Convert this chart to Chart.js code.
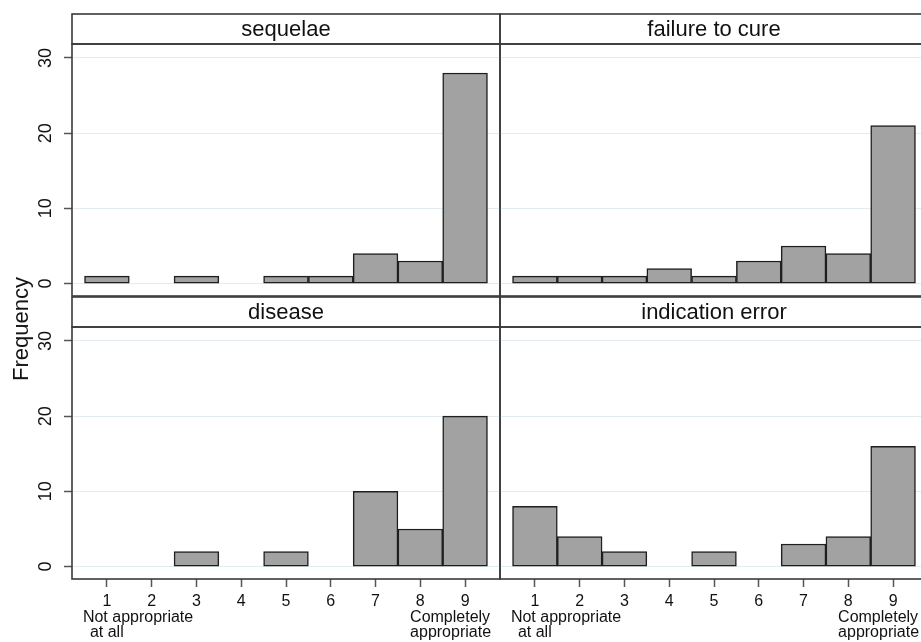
<!DOCTYPE html>
<html lang="en">
<head>
<meta charset="UTF-8" />
<title>Appropriateness ratings by scenario</title>
<script src="https://cdn.jsdelivr.net/npm/chart.js"></script>
<style>
  html, body { margin: 0; padding: 0; background: #fff; overflow: hidden; }
  body { width: 921px; height: 642px; position: relative; font-family: "Liberation Sans", Arial, sans-serif; }
  canvas { position: absolute; }
  #ylabel {
    position: absolute; left: 21px; top: 329px;
    transform: translate(-50%, -50%) rotate(-90deg);
    font-size: 22px; color: #111; white-space: nowrap;
  }
</style>
</head>
<body>
<canvas id="sequelae" width="504" height="300" style="left:0;top:0"></canvas>
<canvas id="failure" width="432" height="300" style="left:496px;top:0"></canvas>
<canvas id="disease" width="504" height="350" style="left:0;top:292px"></canvas>
<canvas id="indication" width="432" height="350" style="left:496px;top:292px"></canvas>
<div id="ylabel">Frequency</div>

<script>
// rating scale 1..9 and counts per scenario
const ratings = [1, 2, 3, 4, 5, 6, 7, 8, 9];
const yTicks = [0, 10, 20, 30];
const sequelae = [1, 0, 1, 0, 1, 1, 4, 3, 28];
const failureToCure = [1, 1, 1, 2, 1, 3, 5, 4, 21];
const disease = [0, 0, 2, 0, 2, 0, 10, 5, 20];
const indicationError = [8, 4, 2, 0, 2, 0, 3, 4, 16];
const lowLabel = ["Not appropriate", "at all"];
const highLabel = ["Completely", "appropriate"];

const FONT = '"Liberation Sans", Arial, sans-serif';
const FRAME = "#3a3a3a";

// strip header + plot frame + end-point descriptions under the x axis
const facetFrame = {
  id: "facetFrame",
  afterDraw(chart, args, opts) {
    const { ctx } = chart;
    const { left, right, top, bottom } = chart.chartArea;
    const h = opts.stripHeight;
    ctx.save();
    ctx.strokeStyle = FRAME;
    ctx.lineWidth = 1.6;
    ctx.strokeRect(left, top - h, right - left, h);
    ctx.strokeRect(left, top, right - left, bottom - top);
    ctx.fillStyle = "#111";
    ctx.font = "22px " + FONT;
    ctx.textAlign = "center";
    ctx.textBaseline = "middle";
    ctx.fillText(opts.title, (left + right) / 2, top - h / 2 + 1);

    if (opts.endLabels) {
      const xs = chart.scales.x;
      const x1 = xs.getPixelForValue(ratings[0]);
      const x9 = xs.getPixelForValue(ratings[ratings.length - 1]);
      ctx.font = "16px " + FONT;
      ctx.textAlign = "left";
      ctx.fillText(lowLabel[0], x1 - 24, xs.top + 39);
      ctx.fillText(lowLabel[1], x1 - 17, xs.top + 54);
      ctx.fillText(highLabel[0], x9 - 55, xs.top + 39);
      ctx.fillText(highLabel[1], x9 - 55, xs.top + 54);
    }
    ctx.restore();
  }
};

function makePanel(id, title, counts, showY, showX) {
  const points = ratings.map((r, i) => ({ x: r, y: counts[i] === 0 ? null : counts[i] }));
  new Chart(document.getElementById(id), {
    type: "bar",
    data: {
      datasets: [{
        data: points,
        backgroundColor: "#a2a2a2",
        borderColor: "#1f1f1f",
        borderWidth: 1.5,
        borderSkipped: false,
        barPercentage: 1,
        categoryPercentage: 1
      }]
    },
    options: {
      responsive: false,
      animation: false,
      devicePixelRatio: 1,
      layout: {
        padding: {
          top: showX ? 35 : 44,
          bottom: showX ? 0 : 4,
          left: showY ? 0 : 4,
          right: showY ? 4 : 0
        }
      },
      plugins: {
        legend: { display: false },
        tooltip: { enabled: false },
        facetFrame: { title: title, stripHeight: 30, endLabels: showX }
      },
      scales: {
        x: {
          type: "linear",
          min: 0.22,
          max: 9.78,
          offset: false,
          display: showX,
          afterBuildTicks: (s) => { s.ticks = ratings.map((v) => ({ value: v })); },
          afterFit: (s) => { s.height = showX ? 63 : 0; },
          border: { display: false },
          grid: { offset: false, drawOnChartArea: false, tickLength: 8, tickColor: "#555", tickWidth: 1.5 },
          ticks: { color: "#111", padding: 5, maxRotation: 0, font: { family: FONT, size: 16 } }
        },
        y: {
          min: -1.65,
          max: 31.85,
          afterBuildTicks: (s) => { s.ticks = yTicks.map((v) => ({ value: v })); },
          afterFit: (s) => {
            s.width = showY ? 72 : 0;
            // rotated labels stay inside the panel; no extra room above/below
            s.paddingTop = 0;
            s.paddingBottom = 0;
          },
          border: { display: false },
          grid: {
            color: "#e3edf1",
            lineWidth: 1,
            drawTicks: showY,
            tickLength: 8,
            tickColor: "#555",
            tickWidth: 1.5
          },
          ticks: {
            display: showY,
            color: "#111",
            padding: 8,
            minRotation: 90,
            maxRotation: 90,
            crossAlign: "center",
            font: { family: FONT, size: 18 }
          }
        }
      }
    },
    plugins: [facetFrame]
  });
}

makePanel("sequelae", "sequelae", sequelae, true, false);
makePanel("failure", "failure to cure", failureToCure, false, false);
makePanel("disease", "disease", disease, true, true);
makePanel("indication", "indication error", indicationError, false, true);
</script>
</body>
</html>
